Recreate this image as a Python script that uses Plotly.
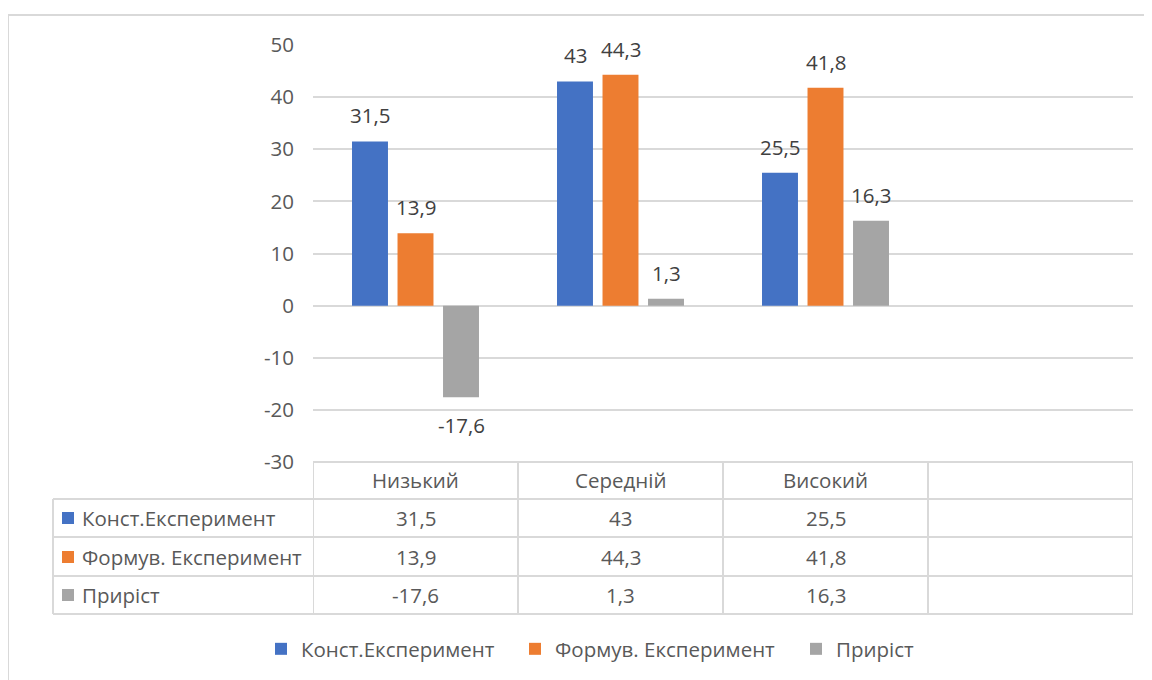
import plotly.graph_objects as go

categories = ["Низький", "Середній", "Високий"]
series_names = ["Конст.Експеримент", "Формув. Експеримент", "Приріст"]
konst = [31.5, 43, 25.5]
formuv = [13.9, 44.3, 41.8]
pryrist = [-17.6, 1.3, 16.3]
y_ticks = [-30, -20, -10, 0, 10, 20, 30, 40, 50]

series_values = [konst, formuv, pryrist]
colors = ["#4472C4", "#ED7D31", "#A5A5A5"]
TXT = "#595959"
GRID = "#D9D9D9"
FONT = "Open Sans"
FS = 20.5

# page has an 8px body margin; figure coordinates = reference - 8
W, H = 1144, 672
L, R, T, B = 313, 1133, 45, 462  # plot area in reference pixels
legend_x = [261, 515, 796]  # left edge of each legend entry (reference pixels)
legend_ids = ["legend", "legend2", "legend3"]


def fmt(v):
    s = ("%g" % v)
    return s.replace(".", ",")


def px(p):
    return (p - L) / (R - L)


def py(p):
    return (B - p) / (B - T)


fig = go.Figure()
for name, vals, col, lid in zip(series_names, series_values, colors, legend_ids):
    fig.add_trace(go.Bar(x=categories, y=vals, name=name, marker_color=col,
                         marker_line_width=0, legend=lid, showlegend=True))

annotations = []
shapes = []
# data labels
for i, (vals, col) in enumerate(zip(series_values, colors)):
    for c, v in zip(categories, vals):
        annotations.append(dict(x=c, y=v, xref="x", yref="y", text=fmt(v),
                                showarrow=False, xshift=(i - 1) * 45.5,
                                yshift=26 if v >= 0 else -28,
                                font=dict(family=FONT, size=FS, color="#404040")))

# data table
row_lines = [462, 499, 537, 576, 614]
for k, yl in enumerate(row_lines):
    x0 = px(313) if k == 0 else px(53)
    shapes.append(dict(type="line", xref="paper", yref="paper", x0=x0, x1=1,
                       y0=py(yl), y1=py(yl), line=dict(color=GRID, width=2)))
for xv in [-0.5, 0.5, 1.5, 2.5, 3.5]:
    shapes.append(dict(type="line", xref="x", yref="paper", x0=xv, x1=xv,
                       y0=py(462), y1=py(614), line=dict(color=GRID, width=2)))
shapes.append(dict(type="line", xref="paper", yref="paper", x0=px(53), x1=px(53),
                   y0=py(499), y1=py(614), line=dict(color=GRID, width=2)))

row_centers = [518, 557, 595]
for c in categories:
    annotations.append(dict(x=c, y=py(480), xref="x", yref="paper", text=c,
                            yanchor="middle", showarrow=False,
                            font=dict(family=FONT, size=FS, color=TXT)))
for r, (name, vals, col) in enumerate(zip(series_names, series_values, colors)):
    yc = row_centers[r]
    shapes.append(dict(type="rect", xref="paper", yref="paper", x0=px(62), x1=px(74),
                       y0=py(yc + 6), y1=py(yc - 6), fillcolor=col, line=dict(width=0)))
    annotations.append(dict(x=px(80), y=py(yc), xref="paper", yref="paper", text=name,
                            xanchor="left", yanchor="middle", showarrow=False,
                            font=dict(family=FONT, size=FS, color=TXT)))
    for c, v in zip(categories, vals):
        annotations.append(dict(x=c, y=py(yc), xref="x", yref="paper", text=fmt(v),
                                yanchor="middle", showarrow=False,
                                font=dict(family=FONT, size=FS, color=TXT)))

# outer chart border
shapes.append(dict(type="rect", xref="paper", yref="paper", x0=px(8), x1=px(1170),
                   y0=py(700), y1=py(15), line=dict(color=GRID, width=2),
                   fillcolor="rgba(0,0,0,0)", layer="below"))

legends = {}
for lid, lx in zip(legend_ids, legend_x):
    legends[lid] = dict(orientation="h", x=px(lx), xanchor="left", xref="paper",
                        y=py(649), yanchor="middle", bgcolor="rgba(0,0,0,0)",
                        font=dict(family=FONT, size=FS, color=TXT),
                        itemclick=False, itemwidth=30, visible=True)

fig.update_layout(
    width=W, height=H, autosize=False, showlegend=True,
    margin=dict(l=L - 8, r=W - (R - 8), t=T - 8, b=H - (B - 8), autoexpand=False),
    paper_bgcolor="white", plot_bgcolor="white",
    barmode="group", bargap=0.334, bargroupgap=0.21,
    font=dict(family=FONT, size=FS, color=TXT),
    xaxis=dict(range=[-0.5, 3.5], showticklabels=False, showgrid=False,
               zeroline=False, showline=False, fixedrange=True, automargin=False),
    yaxis=dict(range=[-30, 50], tickvals=y_ticks, ticktext=[str(t) for t in y_ticks],
               showgrid=True, gridcolor=GRID, gridwidth=2, zeroline=True,
               zerolinecolor=GRID, zerolinewidth=2, showline=False, automargin=False,
               ticks="", ticklabelstandoff=18,
               tickfont=dict(family=FONT, size=FS, color=TXT)),
    shapes=shapes, annotations=annotations,
    **legends,
)

fig.write_html("out.html")
